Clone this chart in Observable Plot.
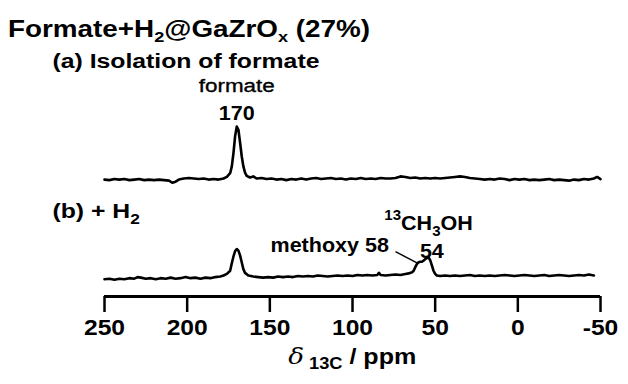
<!DOCTYPE html>
<html>
<head>
<meta charset="utf-8">
<script src="https://cdn.jsdelivr.net/npm/d3@7"></script>
<script src="https://cdn.jsdelivr.net/npm/@observablehq/plot@0.6"></script>
<style>
  html, body { margin: 0; padding: 0; background: #fff; }
  body { width: 628px; height: 384px; overflow: hidden; font-family: "Liberation Sans", Arial, sans-serif; color: #000; }
  #title { height: 44px; box-sizing: border-box; padding: 18px 0 0 8px; white-space: nowrap; }
  #title span { display: inline-block; font-size: 23px; font-weight: bold; line-height: 23px; transform: scaleX(1.21); transform-origin: 0 50%; }
  #title sub { font-size: 15px; vertical-align: -5px; line-height: 0; }
  #xlabel { height: 44px; box-sizing: border-box; text-align: center; width: 704px; padding-top: 2px; white-space: nowrap; }
  #xlabel span { display: inline-block; font-size: 22px; font-weight: bold; line-height: 28px; transform: scaleX(1.14); transform-origin: 50% 50%; }
  #xlabel i { font-family: "DejaVu Serif", "Liberation Serif", serif; font-weight: normal; font-size: 23px; }
  #xlabel sub { font-size: 16px; vertical-align: -5px; line-height: 0; }
  svg text { font-family: "Liberation Sans", Arial, sans-serif; }
</style>
</head>
<body>
<div id="title"><span>Formate+H<sub>2</sub>@GaZrO<sub>x</sub> (27%)</span></div>
<div id="chart"></div>
<div id="xlabel"><span><i>δ</i><sub>&nbsp;13C</sub> / ppm</span></div>
<script>
// ---- data ----
const xTicks = [250, 200, 150, 100, 50, 0, -50];

// (a) Isolation of formate : chemical shift (ppm) and intensity (peak = 100)
const ppmA = [250,247,244,241,238,235,232,229,226,223,220,217,214,211,209,207,205,202,199,196,193,190,187,184,181,178,176,174,173,172,171,170,169,168,167,166,165,164,162,160,158,155,152,149,146,143,140,137,134,131,128,125,122,119,116,113,110,107,104,101,98,95,92,89,86,83,80,77,74,71,68,65,62,59,56,53,50,47,44,41,38,35,32,29,26,23,20,17,14,11,8,5,2,-1,-4,-7,-10,-13,-16,-19,-22,-25,-28,-31,-34,-37,-40,-43,-46,-48,-50];
const intA = [0,-1,1,0,1,-1,0,1,-1,0,-1,0,-1,-2,-6,-4,0,2,3,2,1,2,0,1,0,2,5,12,25,50,82,100,94,70,44,25,13,7,4,6,2,3,1,2,0,1,-1,1,0,2,0,2,3,1,2,3,1,2,0,2,1,3,1,2,1,3,2,2,3,6,5,3,4,2,3,2,3,2,3,4,5,6,5,3,2,1,0,1,0,2,1,-1,1,0,1,-1,0,-1,0,1,-1,0,-1,-2,0,-1,1,0,2,5,1];

// (b) + H2
const ppmB = [250,247,244,241,238,235,232,230,228,225,222,219,216,213,210,207,204,201,198,195,192,189,186,183,180,178,176,174,173,172,171,170,169,168,167,166,165,163,160,157,154,151,148,145,142,139,136,133,130,127,124,121,118,115,112,109,106,103,100,97,94,91,88,85,84,83,80,77,74,71,68,66,64,63,62,61,60,59,58,57,56,55,54,53,52,51,50,49,47,44,41,38,35,32,29,26,23,20,17,14,11,8,5,2,-1,-4,-7,-10,-13,-16,-19,-22,-25,-28,-31,-34,-37,-40,-43,-46,-48,-50];
const intB = [-7,-6,-8,-6,-7,-5,-6,-3,-4,-6,-5,-7,-5,-6,-4,-6,-5,-3,-5,-4,-6,-4,-5,-3,-2,0,3,9,23,36,46,50,47,38,25,12,5,0,-2,-3,-4,-3,-4,-2,-3,-2,-3,-1,-2,-1,-2,0,-1,-2,-1,0,-1,0,-1,1,0,1,0,1,5,1,0,1,2,1,3,4,6,9,16,22,25,26,26,28,31,33,34,29,19,9,3,0,-1,0,-1,0,-1,0,1,-1,0,-1,0,-1,0,1,0,-1,0,1,0,-1,0,1,-1,0,1,0,-1,0,1,0,2,0];

// ---- layout constants ----
const offsetA = 181;           // vertical stacking of trace (a) above trace (b)
const yMin = -39.6, yMax = 435.9;
const rows = [
  ...ppmA.map((p, i) => ({ppm: p, y: intA[i] + offsetA, s: "a"})),
  ...ppmB.map((p, i) => ({ppm: p, y: intB[i], s: "b"}))
];

const chart = Plot.plot({
  width: 628,
  height: 296,
  marginLeft: 104,
  marginRight: 28,
  marginTop: 0,
  marginBottom: 44,
  style: {background: "#fff", color: "#000", overflow: "visible"},
  x: {domain: [250, -50], axis: null},
  y: {domain: [yMin, yMax], axis: null},
  marks: [
    Plot.line(rows, {x: "ppm", y: "y", z: "s", stroke: "#000", strokeWidth: 2.6, strokeLinejoin: "round", curve: "linear"}),
    Plot.axisX({ticks: xTicks, tickSize: 16, tickPadding: 7, tickFormat: d => String(d), fontSize: 22, fontWeight: "bold", strokeWidth: 2.5, stroke: "#000", ariaLabel: "xticks"}),
    Plot.ruleY([yMin], {stroke: "#000", strokeWidth: 3}),
    Plot.text(["(a) Isolation of formate"], {frameAnchor: "left", dx: -52, y: 404, textAnchor: "start", fontSize: 21, fontWeight: "bold"}),
    Plot.text(["(b) + H_{2}"], {frameAnchor: "left", dx: -52, y: 122, textAnchor: "start", fontSize: 21, fontWeight: "bold"}),
    Plot.text(["formate"], {x: 170, y: 358, fontSize: 19, fill: "#000", stroke: "#000", strokeWidth: 0.35}),
    Plot.text(["170"], {x: 170, y: 305, fontSize: 20.5, fontWeight: "bold"}),
    Plot.text(["^{13}CH_{3}OH"], {x: 54, y: 99, fontSize: 20.5, fontWeight: "bold"}),
    Plot.text(["methoxy 58"], {x: 78, y: 57, textAnchor: "end", fontSize: 20.5, fontWeight: "bold"}),
    Plot.text(["54"], {x: 52, y: 45, fontSize: 20.5, fontWeight: "bold"}),
    Plot.link([{x1: 74, y1: 45, x2: 61, y2: 24}], {x1: "x1", y1: "y1", x2: "x2", y2: "y2", stroke: "#000", strokeWidth: 1.4})
  ]
});

// sub/superscripts inside SVG text
d3.select(chart).selectAll("text").each(function () {
  const t = this.textContent;
  if (!/[_^]\{/.test(t)) return;
  const el = d3.select(this);
  el.text(null);
  const re = /([_^])\{([^}]*)\}/g;
  let last = 0, m, shift = 0;
  const add = (str, dy, small) => {
    const ts = el.append("tspan").text(str);
    if (dy) ts.attr("dy", dy + "em");
    if (small) ts.attr("font-size", "70%");
  };
  while ((m = re.exec(t))) {
    if (m.index > last) { add(t.slice(last, m.index), shift ? -shift : 0, false); shift = 0; }
    const d = m[1] === "_" ? 0.3 : -0.45;
    add(m[2], d / 0.7, true);
    shift = d;
    last = re.lastIndex;
  }
  if (last < t.length) add(t.slice(last), shift ? -shift : 0, false);
});

// horizontal stretch of lettering (the reference type is wide)
function stretch(selector, s) {
  d3.select(chart).selectAll(selector).each(function () {
    const tr = this.getAttribute("transform") || "";
    this.setAttribute("transform", tr + ` scale(${s},1)`);
  });
}
stretch('g[aria-label="xticks tick label"] text', 1.12);
stretch('g[aria-label="text"][font-size="21"] text', 1.18);
stretch('g[aria-label="text"][font-size="19"] text', 1.18);
stretch('g[aria-label="text"][font-size="20.5"] text', 1.05);

document.getElementById("chart").appendChild(chart);
</script>
</body>
</html>
